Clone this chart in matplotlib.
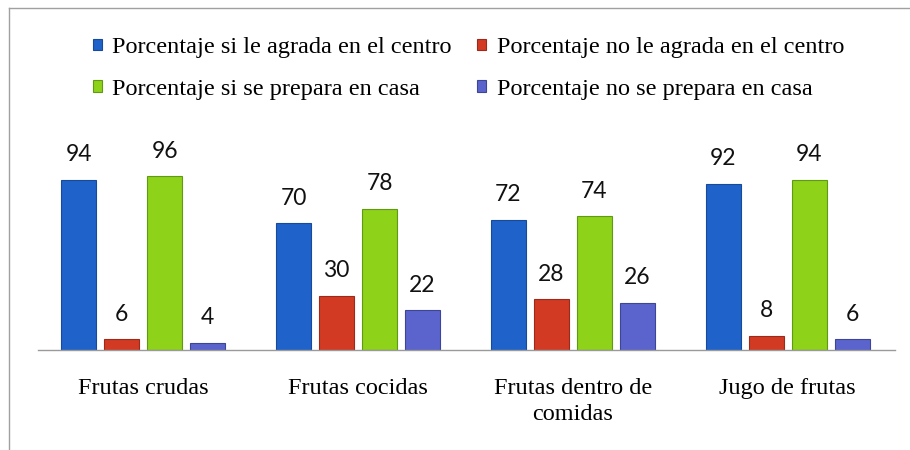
import matplotlib.pyplot as plt
import numpy as np
from matplotlib.lines import Line2D

# data
categories = ['Frutas crudas', 'Frutas cocidas', 'Frutas dentro de\ncomidas', 'Jugo de frutas']
series_names = ['Porcentaje si le agrada en el centro', 'Porcentaje no le agrada en el centro',
                'Porcentaje si se prepara en casa', 'Porcentaje no se prepara en casa']
si_agrada = [94, 70, 72, 92]
no_agrada = [6, 30, 28, 8]
si_casa = [96, 78, 74, 94]
no_casa = [4, 22, 26, 6]

colors = ['#1f62c9', '#d23a24', '#8ed21a', '#5a64cc']
edges = ['#174a9a', '#9c2a1a', '#5f9a10', '#3c4596']

plt.rcParams['font.family'] = ['Liberation Serif', 'DejaVu Serif']

fig = plt.figure(figsize=(9.1, 4.5), dpi=100)
ax = fig.add_axes([38/910, 100/450, (895-38)/910, 180.9/450])

x = np.arange(len(categories))
offsets = [-0.3, -0.1, 0.1, 0.3]
width = 0.163
handles = []
for vals, off, c, ec, name in zip([si_agrada, no_agrada, si_casa, no_casa], offsets, colors, edges, series_names):
    bars = ax.bar(x + off, vals, width, color=c, edgecolor=ec, linewidth=0.8, label=name)
    handles.append(bars)
    for b, v in zip(bars, vals):
        ax.annotate(str(v), (b.get_x() + b.get_width()/2, v), xytext=(0, 18), textcoords='offset points',
                    ha='center', va='center', fontsize=16.5, family=['Lato', 'DejaVu Sans'], color='#111111')

ax.set_xlim(-0.49, 3.5)
ax.set_ylim(0, 100)
ax.set_yticks([])
ax.set_xticks(x)
ax.set_xticklabels(categories, fontsize=17.5, linespacing=1.35)
ax.tick_params(axis='x', length=0, pad=20)
for s in ['top', 'right', 'left']:
    ax.spines[s].set_visible(False)
ax.spines['bottom'].set_color('#9a9a9a')
ax.spines['bottom'].set_linewidth(1)

# legend: column-first filling, so reorder for rows blue/red, green/purple
order = [0, 2, 1, 3]
fig.legend([handles[i] for i in order], [series_names[i] for i in order],
           loc='upper left', bbox_to_anchor=(93/910, 1 - 37/450), ncol=2, frameon=False,
           fontsize=17.5, handlelength=0.35, handleheight=0.35, handletextpad=0.45,
           columnspacing=1.05, labelspacing=0.85, borderpad=0, borderaxespad=0)

# thin frame of the chart area
fig.add_artist(Line2D([9/910, 1], [1 - 8/450, 1 - 8/450], color='#a0a0a0', lw=1))
fig.add_artist(Line2D([9/910, 9/910], [0, 1 - 8/450], color='#a0a0a0', lw=1))

fig.savefig('out.png', dpi=100)
